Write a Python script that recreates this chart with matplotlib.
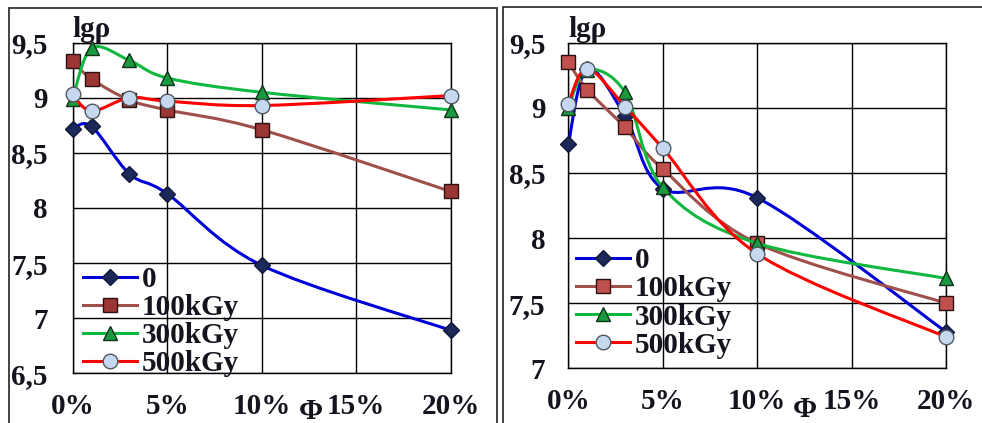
import matplotlib
matplotlib.use("Agg")
import matplotlib.pyplot as plt
from matplotlib.path import Path
from matplotlib.patches import PathPatch, Rectangle
from matplotlib.lines import Line2D
from matplotlib.ticker import FuncFormatter

# filler content, %
phi = [0, 1, 3, 5, 10, 20]
series_names = ["0", "100kGy", "300kGy", "500kGy"]

# left panel, lg(rho)
left_0 = [8.72, 8.74, 8.31, 8.13, 7.48, 6.89]
left_100 = [9.33, 9.17, 8.98, 8.89, 8.71, 8.15]
left_300 = [8.99, 9.45, 9.34, 9.18, 9.05, 8.89]
left_500 = [9.03, 8.88, 9.00, 8.97, 8.93, 9.02]

# right panel, lg(rho)
right_0 = [8.72, 9.30, 8.94, 8.38, 8.31, 7.28]
right_100 = [9.35, 9.14, 8.85, 8.53, 7.96, 7.50]
right_300 = [9.00, 9.29, 9.12, 8.39, 7.96, 7.69]
right_500 = [9.03, 9.30, 9.01, 8.69, 7.88, 7.24]

x_ticks = [0, 5, 10, 15, 20]
left_y_ticks = [6.5, 7, 7.5, 8, 8.5, 9, 9.5]
right_y_ticks = [7, 7.5, 8, 8.5, 9, 9.5]

FONT = "Liberation Serif"
FS = 21
TEXT = "#14141e"

line_colors = ["#0000d8", "#a0504c", "#10b840", "#ff0000"]
markers = ["D", "s", "^", "o"]
marker_sizes = [8, 10, 10, 10.5]
left_faces = ["#1c2858", "#9c3632", "#1a9a40", "#c6d8f0"]
right_faces = ["#1c2858", "#c0504d", "#1a9a40", "#c6d8f0"]
edges = ["#10183a", "#2a1010", "#103018", "#505860"]


def smooth_path(xs, ys):
    # Excel-like smoothed line: cubic Bezier through the points
    pts = list(zip(xs, ys))
    n = len(pts)
    verts = [pts[0]]
    codes = [Path.MOVETO]
    for i in range(n - 1):
        p0 = pts[i - 1] if i > 0 else pts[i]
        p1 = pts[i]
        p2 = pts[i + 1]
        p3 = pts[i + 2] if i + 2 < n else pts[i + 1]
        c1 = (p1[0] + (p2[0] - p0[0]) / 6, p1[1] + (p2[1] - p0[1]) / 6)
        c2 = (p2[0] - (p3[0] - p1[0]) / 6, p2[1] - (p3[1] - p1[1]) / 6)
        verts += [c1, c2, p2]
        codes += [Path.CURVE4] * 3
    return Path(verts, codes)


def comma(v, pos):
    return f"{v:g}".replace(".", ",")


def draw_panel(ax, data, faces, y_ticks, legend_anchor, ypad):
    for k, ys in enumerate(data):
        patch = PathPatch(smooth_path(phi, ys), fill=False,
                          edgecolor=line_colors[k], linewidth=2.2,
                          zorder=3 + 2 * k, clip_on=False,
                          capstyle="round", joinstyle="round")
        ax.add_patch(patch)
        ax.plot(phi, ys, linestyle="none", marker=markers[k],
                markersize=marker_sizes[k], markerfacecolor=faces[k],
                markeredgecolor=edges[k], markeredgewidth=1.0,
                zorder=4 + 2 * k, clip_on=False)

    ax.set_xlim(0, 20)
    ax.set_ylim(y_ticks[0], y_ticks[-1])
    ax.set_xticks(x_ticks)
    ax.set_yticks(y_ticks)
    ax.xaxis.set_major_formatter(FuncFormatter(lambda v, p: f"{v:g}%"))
    ax.yaxis.set_major_formatter(FuncFormatter(comma))
    ax.grid(True, color="black", linewidth=1.0)
    ax.set_axisbelow(True)
    ax.tick_params(length=0, labelsize=FS, colors=TEXT)
    ax.tick_params(axis="x", pad=14)
    ax.tick_params(axis="y", pad=ypad)
    for lab in ax.get_xticklabels() + ax.get_yticklabels():
        lab.set_fontfamily(FONT)
        lab.set_fontweight("bold")
    for sp in ax.spines.values():
        sp.set_color("black")
        sp.set_linewidth(1.0)

    handles = [
        Line2D([], [], color=line_colors[k], linewidth=2.2,
               marker=markers[k], markersize=marker_sizes[k],
               markerfacecolor=faces[k], markeredgecolor=edges[k])
        for k in range(4)
    ]
    leg = ax.legend(handles, series_names, loc="upper left",
                    bbox_to_anchor=legend_anchor, frameon=False,
                    borderpad=0, borderaxespad=0, handlelength=1.85,
                    handletextpad=0.17, labelspacing=0.04,
                    prop={"family": FONT, "weight": "bold", "size": FS})
    for t in leg.get_texts():
        t.set_color(TEXT)
    leg.set_zorder(20)

    ax.text(0, 1.0, "lgρ", transform=ax.transAxes, ha="left", va="bottom",
            fontsize=FS, fontfamily=FONT, fontweight="bold", color=TEXT)


fig = plt.figure(figsize=(9.82, 4.23), dpi=100)
W, H = 982, 423

# outer frames of the two pictures
fig.add_artist(Rectangle((8.5 / W, -0.1), (496.5 - 8.5) / W, 1.1 - 8.5 / H,
                         transform=fig.transFigure, fill=False,
                         edgecolor="#222222", linewidth=1.2))
fig.add_artist(Rectangle((503.5 / W, -0.1), 1.0, 1.1 - 7.5 / H,
                         transform=fig.transFigure, fill=False,
                         edgecolor="#222222", linewidth=1.2))

ax1 = fig.add_axes([72.7 / W, (H - 373.3) / H, 378 / W, 330.6 / H])
ax2 = fig.add_axes([568.3 / W, (H - 368.3) / H, 377.7 / W, 325.6 / H])

draw_panel(ax1, [left_0, left_100, left_300, left_500], left_faces,
           left_y_ticks, (0.027, 0.325), 18)
draw_panel(ax2, [right_0, right_100, right_300, right_500], right_faces,
           right_y_ticks, (0.020, 0.372), 16.5)

fig.text(311 / W, 1 - 411 / H, "Φ", ha="center", va="center", fontsize=FS,
         fontfamily=FONT, fontweight="bold", color=TEXT)
fig.text(805 / W, 1 - 409 / H, "Φ", ha="center", va="center", fontsize=FS,
         fontfamily=FONT, fontweight="bold", color=TEXT)

fig.savefig("out.png", dpi=100)
